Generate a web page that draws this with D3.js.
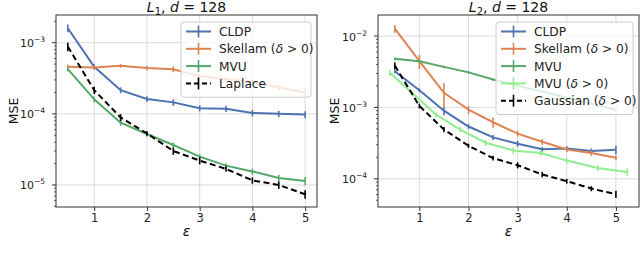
<!DOCTYPE html>
<html>
<head>
<meta charset="utf-8">
<script src="https://cdn.jsdelivr.net/npm/d3@7"></script>
<style>
  body { margin: 0; background: #fff; }
  svg { font-family: "DejaVu Sans", sans-serif; }
</style>
</head>
<body>
<div id="chart"></div>
<script>
// ---- data ----
const epsilon = [0.5, 1, 1.5, 2, 2.5, 3, 3.5, 4, 4.5, 5];
const epsilonMvuDelta = [0.40, 0.87, 1.34, 1.83, 2.35, 2.91, 3.47, 4.0, 4.63, 5.23];
const xTicks = [1, 2, 3, 4, 5];

// L1 panel
const l1Cldp = [1.6e-3, 4.6e-4, 2.15e-4, 1.62e-4, 1.45e-4, 1.2e-4, 1.18e-4, 1.03e-4, 1.0e-4, 9.8e-5];
const l1CldpErr = [2e-4, 4e-5, 2e-5, 1.5e-5, 1.5e-5, 1.2e-5, 1.2e-5, 1.1e-5, 1e-5, 1.1e-5];
const l1Skellam = [4.6e-4, 4.5e-4, 4.75e-4, 4.4e-4, 4.25e-4, 3.4e-4, 3.1e-4, 2.8e-4, 2.35e-4, 2.0e-4];
const l1SkellamErr = [3e-5, 3e-5, 3e-5, 3e-5, 4e-5, 2e-5, 2e-5, 2e-5, 2e-5, 2.5e-5];
const l1Mvu = [4.25e-4, 1.6e-4, 7.5e-5, 5.2e-5, 3.65e-5, 2.5e-5, 1.87e-5, 1.55e-5, 1.25e-5, 1.14e-5];
const l1MvuErr = [3e-5, 1.5e-5, 7e-6, 4e-6, 3e-6, 2e-6, 1.5e-6, 1.5e-6, 1.3e-6, 1.5e-6];
const l1Laplace = [8.8e-4, 2.15e-4, 8.9e-5, 5.3e-5, 3.0e-5, 2.2e-5, 1.68e-5, 1.16e-5, 1.0e-5, 7.4e-6];
const l1LaplaceErr = [1.2e-4, 2.5e-5, 1e-5, 4e-6, 3.5e-6, 2.5e-6, 1.5e-6, 1.2e-6, 1.2e-6, 1e-6];
const l1YTicks = [1e-3, 1e-4, 1e-5];

// L2 panel
const l2Cldp = [3.22e-3, 1.74e-3, 9.0e-4, 5.4e-4, 3.8e-4, 3.1e-4, 2.6e-4, 2.65e-4, 2.45e-4, 2.55e-4];
const l2CldpErr = [2e-4, 1e-4, 1.2e-4, 4e-5, 3e-5, 3e-5, 2e-5, 2e-5, 2e-5, 3.5e-5];
const l2Skellam = [1.27e-2, 4.45e-3, 1.6e-3, 9.3e-4, 6.2e-4, 4.3e-4, 3.3e-4, 2.57e-4, 2.3e-4, 1.97e-4];
const l2SkellamErr = [1.6e-3, 1e-3, 6e-4, 1.2e-4, 1e-4, 4e-5, 3e-5, 2e-5, 2e-5, 1.5e-5];
const l2Mvu = [4.8e-3, 4.45e-3, 3.7e-3, 3.1e-3, 2.46e-3, 2.03e-3, 1.67e-3, 1.37e-3, 1.13e-3, 9.2e-4];
const l2MvuErr = [2e-4, 2e-4, 1.5e-4, 1.2e-4, 1e-4, 8e-5, 6e-5, 5e-5, 4e-5, 3e-5];
const l2MvuDelta = [3.05e-3, 1.55e-3, 7.9e-4, 4.9e-4, 3.2e-4, 2.5e-4, 2.3e-4, 1.8e-4, 1.42e-4, 1.25e-4];
const l2MvuDeltaErr = [3e-4, 1.2e-4, 6e-5, 4e-5, 3e-5, 2.5e-5, 2e-5, 1.5e-5, 1.3e-5, 1.5e-5];
const l2Gaussian = [3.85e-3, 1.05e-3, 4.9e-4, 2.9e-4, 1.95e-4, 1.55e-4, 1.15e-4, 9.25e-5, 7.3e-5, 6.1e-5];
const l2GaussianErr = [4e-4, 8e-5, 4e-5, 2e-5, 1.5e-5, 1.5e-5, 1e-5, 7e-6, 6e-6, 7e-6];
const l2YTicks = [1e-2, 1e-3, 1e-4];

const blue = "#4c72b0", orange = "#dd8452", green = "#55a868", lightGreen = "#90ee90";

const width = 640, height = 256;

const svg = d3.select("#chart")
  .append("svg")
  .attr("width", width)
  .attr("height", height);

function drawPanel(p) {
  const x = d3.scaleLinear().domain(p.xDomain).range([p.left, p.right]);
  const y = d3.scaleLog().domain(p.yDomain).range([p.bottom, p.top]);

  const g = svg.append("g");

  // grid
  g.append("g").selectAll("line").data(xTicks).enter().append("line")
    .attr("x1", d => x(d)).attr("x2", d => x(d))
    .attr("y1", p.top).attr("y2", p.bottom)
    .attr("stroke", "#b0b0b0").attr("stroke-opacity", 0.45).attr("stroke-width", 1);
  g.append("g").selectAll("line").data(p.yTicks).enter().append("line")
    .attr("x1", p.left).attr("x2", p.right)
    .attr("y1", d => y(d)).attr("y2", d => y(d))
    .attr("stroke", "#b0b0b0").attr("stroke-opacity", 0.45).attr("stroke-width", 1);

  const clipId = "clip" + p.id;
  g.append("clipPath").attr("id", clipId).append("rect")
    .attr("x", p.left).attr("y", p.top)
    .attr("width", p.right - p.left).attr("height", p.bottom - p.top);

  const plot = g.append("g").attr("clip-path", `url(#${clipId})`);

  p.series.forEach(s => {
    const pts = s.values.map((v, i) => ({ x: s.x[i], y: v, e: s.err[i] }));
    const line = d3.line().x(d => x(d.x)).y(d => y(d.y));
    plot.append("path")
      .datum(pts)
      .attr("fill", "none")
      .attr("stroke", s.color)
      .attr("stroke-width", 2)
      .attr("stroke-dasharray", s.dash || null)
      .attr("d", line);
    plot.selectAll(null)
      .data(pts)
      .enter()
      .append("line")
      .attr("x1", d => x(d.x)).attr("x2", d => x(d.x))
      .attr("y1", d => y(Math.max(d.y - d.e, 1e-9)))
      .attr("y2", d => y(d.y + d.e))
      .attr("stroke", s.color)
      .attr("stroke-width", 1.6);
  });

  // axes
  const xAxis = d3.axisBottom(x).tickValues(xTicks).tickSize(4).tickPadding(3).tickFormat(d3.format("d"));
  const gx = g.append("g")
    .attr("transform", `translate(0,${p.bottom})`)
    .call(xAxis);
  gx.select(".domain").remove();
  gx.selectAll("text").attr("font-size", 11.5).attr("fill", "#222").attr("font-family", "DejaVu Sans");
  gx.selectAll("line").attr("stroke", "#333");

  const minor = [];
  const lo = Math.floor(Math.log10(p.yDomain[0])), hi = Math.ceil(Math.log10(p.yDomain[1]));
  for (let k = lo; k < hi; k++) {
    for (let m = 2; m <= 9; m++) {
      const v = m * Math.pow(10, k);
      if (v > p.yDomain[0] && v < p.yDomain[1]) minor.push(v);
    }
  }
  g.append("g").selectAll("line").data(minor).enter().append("line")
    .attr("x1", p.left - 2).attr("x2", p.left)
    .attr("y1", d => y(d)).attr("y2", d => y(d))
    .attr("stroke", "#333").attr("stroke-width", 0.8);

  const yAxis = g.append("g");
  yAxis.selectAll("line").data(p.yTicks).enter().append("line")
    .attr("x1", p.left - 4).attr("x2", p.left)
    .attr("y1", d => y(d)).attr("y2", d => y(d))
    .attr("stroke", "#333");
  const lbl = yAxis.selectAll("text").data(p.yTicks).enter().append("text")
    .attr("x", p.left - 11)
    .attr("y", d => y(d) + 4.5)
    .attr("text-anchor", "end")
    .attr("font-size", 11)
    .attr("fill", "#222");
  lbl.append("tspan").text("10");
  lbl.append("tspan")
    .attr("dy", -5).attr("font-size", 7.5)
    .text(d => "\u2212" + Math.round(-Math.log10(d)));

  // frame
  g.append("rect")
    .attr("x", p.left).attr("y", p.top)
    .attr("width", p.right - p.left).attr("height", p.bottom - p.top)
    .attr("fill", "none").attr("stroke", "#333").attr("stroke-width", 1);

  // title
  const cx = (p.left + p.right) / 2;
  const t = g.append("text")
    .attr("x", cx).attr("y", 11.5)
    .attr("text-anchor", "middle")
    .attr("font-size", 14).attr("fill", "#111");
  t.append("tspan").attr("font-style", "italic").text("L");
  t.append("tspan").attr("font-size", 10).attr("dy", 3).text(p.sub);
  t.append("tspan").attr("dy", -3).text(", ");
  t.append("tspan").attr("font-style", "italic").text("d");
  t.append("tspan").text(" = 128");

  // axis labels
  g.append("text")
    .attr("x", cx).attr("y", 236)
    .attr("text-anchor", "middle")
    .attr("font-size", 14).attr("font-style", "italic").attr("fill", "#111")
    .text("\u03b5");
  g.append("text")
    .attr("transform", `translate(${p.yLabelX},${(p.top + p.bottom) / 2}) rotate(-90)`)
    .attr("text-anchor", "middle")
    .attr("font-size", 12.5).attr("fill", "#111")
    .text("MSE");

  // legend
  const rowH = 17.3;
  const lg = g.append("g");
  lg.append("rect")
    .attr("x", p.legend.x).attr("y", p.legend.y)
    .attr("width", p.legend.w).attr("height", p.series.length * rowH + 6)
    .attr("rx", 3)
    .attr("fill", "#fff").attr("fill-opacity", 0.8)
    .attr("stroke", "#ccc").attr("stroke-width", 1);
  p.series.forEach((s, i) => {
    const ry = p.legend.y + 9.5 + i * rowH;
    const hx = p.legend.x + 5;
    lg.append("line")
      .attr("x1", hx).attr("x2", hx + 25)
      .attr("y1", ry).attr("y2", ry)
      .attr("stroke", s.color).attr("stroke-width", 2)
      .attr("stroke-dasharray", s.dash ? "5,3" : null);
    lg.append("line")
      .attr("x1", hx + 12.5).attr("x2", hx + 12.5)
      .attr("y1", ry - 6).attr("y2", ry + 6)
      .attr("stroke", s.color).attr("stroke-width", 1.6);
    const tx = lg.append("text")
      .attr("x", hx + 33).attr("y", ry + 4.5)
      .attr("font-size", 12.2).attr("fill", "#222");
    s.label.forEach(part => {
      tx.append("tspan").attr("font-style", part.it ? "italic" : null).text(part.t);
    });
  });
}

const delta = [{ t: " (" }, { t: "\u03b4", it: true }, { t: " > 0)" }];

drawPanel({
  id: 1, sub: "1",
  left: 56, right: 317, top: 15, bottom: 207,
  xDomain: [0.275, 5.225],
  yDomain: [Math.pow(10, -5.31), Math.pow(10, -2.61)],
  yTicks: l1YTicks, yLabelX: 18,
  legend: { x: 181, y: 22, w: 130 },
  series: [
    { label: [{ t: "CLDP" }], x: epsilon, values: l1Cldp, err: l1CldpErr, color: blue },
    { label: [{ t: "Skellam" }].concat(delta), x: epsilon, values: l1Skellam, err: l1SkellamErr, color: orange },
    { label: [{ t: "MVU" }], x: epsilon, values: l1Mvu, err: l1MvuErr, color: green },
    { label: [{ t: "Laplace" }], x: epsilon, values: l1Laplace, err: l1LaplaceErr, color: "#000", dash: "6,3.5" }
  ]
});

drawPanel({
  id: 2, sub: "2",
  left: 378, right: 639, top: 15, bottom: 207,
  xDomain: [0.158, 5.47],
  yDomain: [Math.pow(10, -4.395), Math.pow(10, -1.705)],
  yTicks: l2YTicks, yLabelX: 339,
  legend: { x: 496, y: 22, w: 137 },
  series: [
    { label: [{ t: "CLDP" }], x: epsilon, values: l2Cldp, err: l2CldpErr, color: blue },
    { label: [{ t: "Skellam" }].concat(delta), x: epsilon, values: l2Skellam, err: l2SkellamErr, color: orange },
    { label: [{ t: "MVU" }], x: epsilon, values: l2Mvu, err: l2MvuErr, color: green },
    { label: [{ t: "MVU" }].concat(delta), x: epsilonMvuDelta, values: l2MvuDelta, err: l2MvuDeltaErr, color: lightGreen },
    { label: [{ t: "Gaussian" }].concat(delta), x: epsilon, values: l2Gaussian, err: l2GaussianErr, color: "#000", dash: "6,3.5" }
  ]
});
</script>
</body>
</html>
